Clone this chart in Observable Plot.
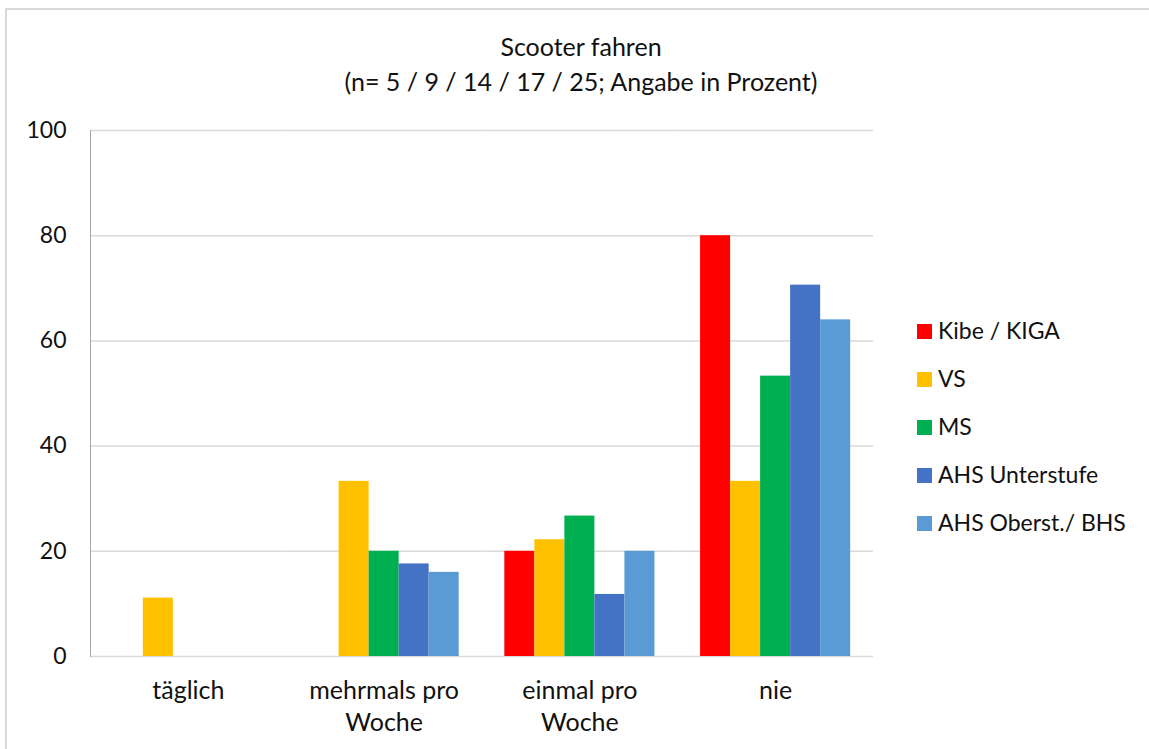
<!DOCTYPE html>
<html>
<head>
<meta charset="utf-8">
<script src="https://cdn.jsdelivr.net/npm/d3@7"></script>
<script src="https://cdn.jsdelivr.net/npm/@observablehq/plot@0.6"></script>
<style>
  html, body { margin: 0; padding: 0; background: #fff; }
  body { width: 1149px; height: 749px; overflow: hidden; position: relative; font-family: Lato, "Open Sans", sans-serif; color: #111; }
  #border { position: absolute; left: 5px; top: 8px; width: 1200px; height: 800px; border-left: 2px solid #d9d9d9; border-top: 2px solid #d9d9d9; box-sizing: border-box; }
  #title { position: absolute; left: 0; top: 29px; width: 1162px; text-align: center; font-size: 25px; line-height: 35px; }
  #chart { position: absolute; left: 0; top: 110px; }
  #legend { position: absolute; left: 917px; top: 306px; font-size: 23px; }
  .item { height: 48px; display: flex; align-items: center; }
  .sw { width: 15px; height: 15px; margin-right: 6px; margin-top: 2px; }
</style>
</head>
<body>
<div id="border"></div>
<div id="title">Scooter fahren<br>(n= 5 / 9 / 14 / 17 / 25; Angabe in Prozent)</div>
<div id="chart"></div>
<div id="legend"></div>
<script>
const categories = ["täglich", "mehrmals pro Woche", "einmal pro Woche", "nie"];
const categoryLabels = ["täglich", "mehrmals pro\nWoche", "einmal pro\nWoche", "nie"];
const seriesNames = ["Kibe / KIGA", "VS", "MS", "AHS Unterstufe", "AHS Oberst./ BHS"];
const seriesColors = ["#ff0000", "#ffc000", "#00b050", "#4472c4", "#5b9bd5"];
const kibe = [0, 0, 20, 80];
const vs = [11.1, 33.3, 22.2, 33.3];
const ms = [0, 20, 26.7, 53.3];
const ahsUnterstufe = [0, 17.6, 11.8, 70.6];
const ahsOberstufe = [0, 16, 20, 64];
const yTicks = [0, 20, 40, 60, 80, 100];

const seriesValues = [kibe, vs, ms, ahsUnterstufe, ahsOberstufe];
const data = [];
categories.forEach((c, i) => {
  seriesNames.forEach((s, j) => data.push({category: c, series: s, value: seriesValues[j][i]}));
});
const labelOf = new Map(categories.map((c, i) => [c, categoryLabels[i]]));

const chart = Plot.plot({
  width: 900,
  height: 636,
  marginTop: 20,
  marginLeft: 90,
  marginRight: 27,
  marginBottom: 90,
  style: {fontSize: "23px", fontFamily: "Lato, 'Open Sans', sans-serif", color: "#111", background: "transparent"},
  fx: {domain: categories, padding: 0, label: null, round: false},
  x: {domain: seriesNames, paddingInner: 0, paddingOuter: 0.76, axis: null, round: false},
  y: {domain: [0, 100], label: null},
  color: {domain: seriesNames, range: seriesColors},
  marks: [
    Plot.ruleY(yTicks, {stroke: "#d9d9d9", strokeWidth: 1.5, strokeOpacity: 1}),
    Plot.frame({anchor: "left", stroke: "#a6a6a6", fx: [categories[0]]}),
    Plot.barY(data, {fx: "category", x: "series", y: "value", fill: "series"}),
    Plot.axisY({ticks: yTicks, tickSize: 0, tickPadding: 24, label: null, fontSize: 23}),
    Plot.axisFx({anchor: "bottom", tickSize: 0, tickPadding: 19, label: null, tickFormat: d => labelOf.get(d), lineHeight: 1.3, fontSize: 25})
  ]
});
document.getElementById("chart").appendChild(chart);

const legend = document.getElementById("legend");
seriesNames.forEach((s, j) => {
  const item = document.createElement("div");
  item.className = "item";
  const sw = document.createElement("div");
  sw.className = "sw";
  sw.style.background = seriesColors[j];
  const t = document.createElement("span");
  t.textContent = s;
  item.appendChild(sw);
  item.appendChild(t);
  legend.appendChild(item);
});
</script>
</body>
</html>
